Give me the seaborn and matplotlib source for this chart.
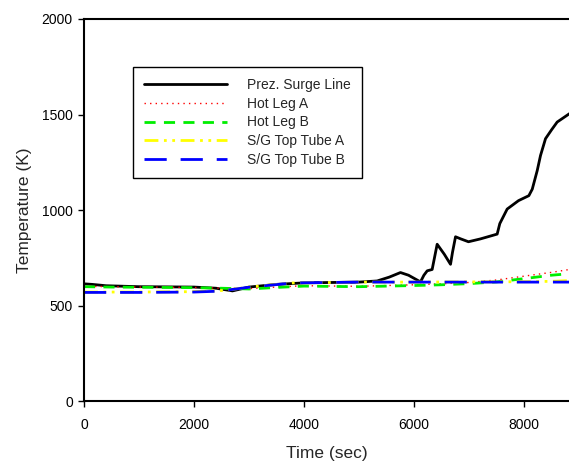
import pandas as pd
import matplotlib.pyplot as plt
import seaborn as sns

# Prez. Surge Line
surge_t = [0, 150, 400, 1000, 2000, 2400, 2700, 3000, 3500, 4000, 4500, 5000, 5330, 5550, 5754, 5900,
           6118, 6180, 6240, 6330, 6421, 6550, 6664, 6700, 6755, 6850, 6990, 7209, 7512, 7560, 7694,
           7900, 8088, 8150, 8240, 8300, 8391, 8500, 8603, 8827]
surge_T = [615, 612, 605, 600, 598, 592, 578, 598, 612, 620, 622, 624, 630, 650, 674, 660,
           625, 660, 683, 690, 822, 770, 717, 780, 861, 850, 835, 850, 875, 930, 1006,
           1050, 1076, 1110, 1207, 1286, 1374, 1420, 1461, 1505]

# Hot Leg A
hla_t = [0, 500, 1000, 2000, 2500, 3000, 3500, 4000, 5000, 6000, 6500, 7000, 7500, 8000, 8500, 8827]
hla_T = [602, 600, 598, 596, 592, 590, 598, 605, 602, 610, 615, 622, 635, 655, 675, 690]

# Hot Leg B
hlb_t = [0, 500, 1000, 2000, 2500, 3000, 3500, 4000, 5000, 6000, 6500, 7000, 7500, 8000, 8500, 8827]
hlb_T = [600, 598, 597, 595, 592, 588, 596, 603, 600, 606, 610, 616, 625, 642, 660, 668]

# S/G Top Tube A
sga_t = [0, 1000, 2000, 2400, 2600, 3000, 3500, 3800, 4500, 5000, 6000, 7000, 8000, 8500, 8827]
sga_T = [572, 572, 574, 578, 582, 598, 612, 620, 622, 624, 624, 625, 626, 628, 632]

# S/G Top Tube B
sgb_t = [0, 1000, 2000, 2400, 2600, 3000, 3500, 3800, 4500, 5000, 6000, 7000, 8000, 8500, 8827]
sgb_T = [570, 570, 572, 576, 582, 597, 611, 620, 622, 624, 624, 624, 624, 624, 624]

labels = ['Prez. Surge Line', 'Hot Leg A', 'Hot Leg B', 'S/G Top Tube A', 'S/G Top Tube B']
colors = ['black', 'red', '#00ee00', '#ffff00', '#0000ff']

sns.set_style('ticks')
plt.rcParams['font.family'] = ['Liberation Sans', 'DejaVu Sans']

fig = plt.figure(figsize=(5.69, 4.63), dpi=100)
ax = fig.add_axes([0.1476, 0.133, 0.8524, 0.826])

series = [(surge_t, surge_T), (hla_t, hla_T), (hlb_t, hlb_T), (sga_t, sga_T), (sgb_t, sgb_T)]
styles = [dict(lw=2.0, ls='-'),
          dict(lw=1.0, ls=(0, (1, 3))),
          dict(lw=2.0, ls=(0, (4, 3))),
          dict(lw=2.0, ls=(0, (5, 2, 1, 2, 1, 2))),
          dict(lw=2.0, ls=(0, (8, 5)))]

for (t, T), lab, c, st in zip(series, labels, colors, styles):
    df = pd.DataFrame({'Time (sec)': t, 'Temperature (K)': T})
    sns.lineplot(data=df, x='Time (sec)', y='Temperature (K)', ax=ax, color=c,
                 label=lab, linewidth=st['lw'], linestyle=st['ls'])

ax.set_xlim(0, 8818)
ax.set_ylim(0, 2000)
ax.set_xticks([0, 2000, 4000, 6000, 8000])
ax.set_yticks([0, 500, 1000, 1500, 2000])
ax.tick_params(direction='out', length=4, width=1, labelsize=10, colors='black')
ax.tick_params(axis='x', pad=8)
ax.tick_params(axis='y', pad=4)
ax.set_xlabel('Time (sec)', fontsize=12.5, labelpad=10)
ax.set_ylabel('Temperature (K)', fontsize=12.5, labelpad=7)
ax.spines['right'].set_visible(False)
for s in ['left', 'bottom', 'top']:
    ax.spines[s].set_linewidth(1.5)
    ax.spines[s].set_color('black')

leg = ax.legend(loc='upper left', bbox_to_anchor=(0.101, 0.8745), fontsize=10,
                handlelength=6, handletextpad=1.4, borderpad=0.8, labelspacing=0.335,
                borderaxespad=0, fancybox=False, framealpha=1, edgecolor='black')
leg.get_frame().set_linewidth(1.0)

fig.savefig('out.png', dpi=100)
